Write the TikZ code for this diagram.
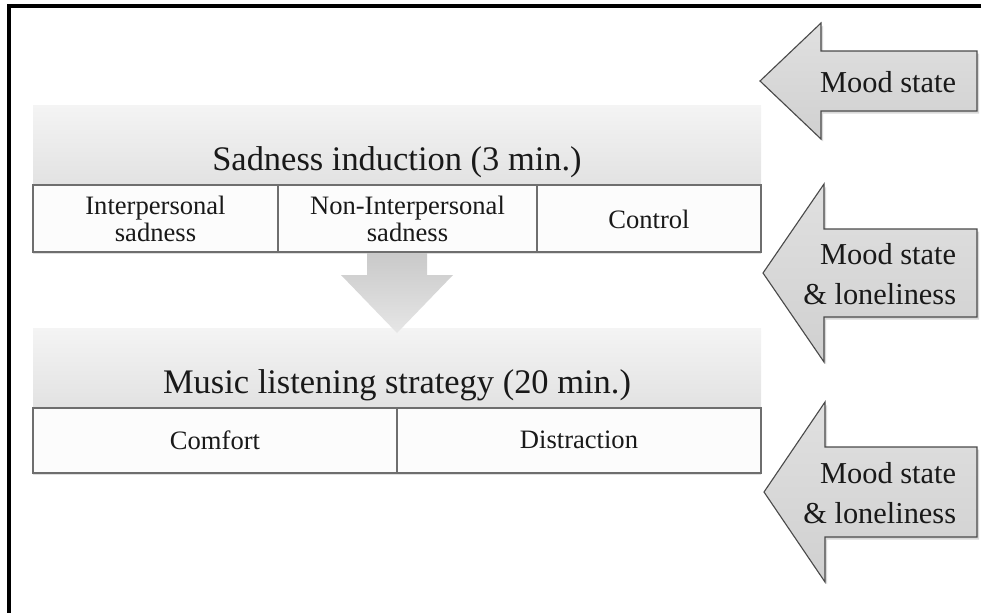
\documentclass[tikz,border=0pt]{standalone}
\usepackage{fontspec}
\setmainfont{Liberation Serif}
\usepackage{tikz}
\usetikzlibrary{shadows}

\definecolor{headtop}{HTML}{F4F4F4}
\definecolor{headbot}{HTML}{E2E2E2}
\definecolor{cellfill}{HTML}{FCFCFC}
\definecolor{cellline}{HTML}{6E6E6E}
\definecolor{downtop}{HTML}{C9C9C9}
\definecolor{downbot}{HTML}{E6E6E6}
\definecolor{sidetop}{HTML}{E0E0E0}
\definecolor{sidebot}{HTML}{D0D0D0}
\definecolor{sideline}{HTML}{4A4A4A}

\tikzset{
  title/.style={font=\fontsize{24.5}{29}\selectfont, text=black!90},
  celltext/.style={font=\fontsize{18.9}{19}\selectfont, align=center, text=black!90},
  sidetext/.style={font=\fontsize{21.6}{28.5}\selectfont, align=right, text=black!90},
  header/.style={top color=headtop, bottom color=headbot},
  cell/.style={draw=cellline, line width=1pt, fill=cellfill,
    drop shadow={shadow xshift=0.3pt, shadow yshift=-1.3pt, opacity=0.25}},
  downarrow/.style={top color=downtop, bottom color=downbot},
  sidearrow/.style={draw=sideline, line width=0.8pt, top color=sidetop, bottom color=sidebot,
    drop shadow={shadow xshift=1.5pt, shadow yshift=-1.8pt, opacity=0.3}}
}

\begin{document}
\begin{tikzpicture}[x=0.025cm, y=-0.025cm]
    \useasboundingbox (0,0) rectangle (990,613);
    % frame
    \draw[line width=2.7pt] (981,6) -- (9,6) -- (9,613);
    % stage 1
    \path[header] (33,105) rectangle (761,185);
    \node[title, anchor=base] (sad) at (397,170) {Sadness induction (3 min.)};
    \foreach \a/\b/\n/\t in {33/278/inter/{Interpersonal\\sadness}, 278/537/noninter/{Non-Interpersonal\\sadness}, 537/761/ctrl/Control}
    {
      \draw[cell] (\a,185) rectangle (\b,252);
      \node[celltext] (\n) at ({(\a+\b)/2},219) {\t};
    }
    % stage 2
    \path[header] (33,328) rectangle (761,408);
    \node[title, anchor=base] (music) at (397,393) {Music listening strategy (20 min.)};
    \foreach \a/\b/\n/\t in {33/397/comfort/Comfort, 397/761/distract/Distraction}
    {
      \draw[cell] (\a,408) rectangle (\b,473);
      \node[celltext] (\n) at ({(\a+\b)/2},440) {\t};
    }
    % arrow between stages
    \path[downarrow] (367,253) -- (427,253) -- (427,275) -- (453,275) -- (397,333)
      -- (341,275) -- (367,275) -- cycle;
    % measurements
    \foreach \n/\tx/\ty/\hh/\hs/\t in {mood/760/81/58/30/{Mood state},
      moodlone/763/273/89/44/{Mood state\\\& loneliness},
      moodlend/764/492/90/45/{Mood state\\\& loneliness}}
    {
      \draw[sidearrow] (\tx,\ty) -- ++(61,-\hh) -- ++(0,\hh-\hs) -- (977,\ty-\hs)
        -- (977,\ty+\hs) -- (\tx+61,\ty+\hs) -- ++(0,\hh-\hs) -- cycle;
      \node[sidetext, anchor=east] (\n) at (961,\ty+1) {\t};
    }
\end{tikzpicture}
\end{document}
